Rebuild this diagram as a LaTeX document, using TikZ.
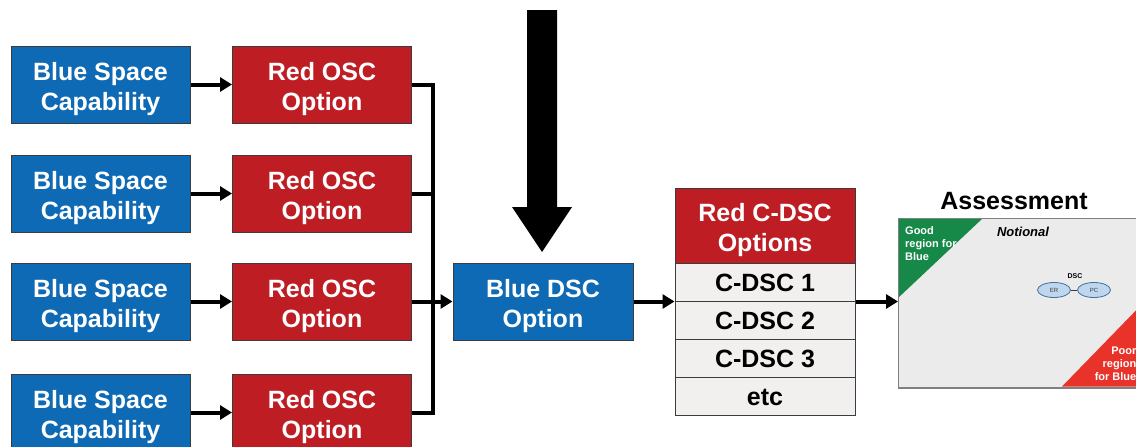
\documentclass[tikz,border=0pt]{standalone}
\usepackage{fontspec}
\setmainfont{Liberation Sans}
\usetikzlibrary{arrows.meta,shapes.geometric}
\definecolor{bbox}{RGB}{14,106,181}
\definecolor{rbox}{RGB}{190,29,36}
\definecolor{gbox}{RGB}{241,240,238}
\definecolor{edge}{RGB}{60,60,60}
\definecolor{assess}{RGB}{235,235,235}
\definecolor{goodg}{RGB}{22,136,72}
\definecolor{poorr}{RGB}{232,50,42}
\definecolor{ellf}{RGB}{190,215,238}
\definecolor{elld}{RGB}{65,113,156}
\newcommand{\lowstrut}{\rule{0pt}{28pt}}
\begin{document}
\begin{tikzpicture}[x=1pt,y=-1pt,
  box/.style={draw=edge,line width=1pt,minimum width=179pt,minimum height=77pt,inner sep=0pt,
    align=center,font=\fontsize{25}{30}\selectfont\bfseries,text=white},
  bluebox/.style={box,fill=bbox},
  redbox/.style={box,fill=rbox},
  rowbox/.style={draw=edge,line width=1pt,fill=gbox,minimum width=180pt,minimum height=38pt,inner sep=0pt,
    font=\fontsize{25}{30}\selectfont\bfseries,text=black},
  conn/.style={line width=4pt},
  arr/.style={conn,-{Triangle[length=12pt,width=14pt]}},
  ell/.style={ellipse,draw=elld,fill=ellf,line width=0.8pt,minimum width=33pt,minimum height=15pt,inner sep=0pt,
    font=\fontsize{6}{7}\selectfont,text=edge},
  tri/.style={text=white,font=\fontsize{11}{13}\selectfont\bfseries,inner sep=0pt}
]
\useasboundingbox (0,0) rectangle (1136,447);
\clip (0,0) rectangle (1136,447);
% left column
\foreach \i/\y in {1/84.5,2/193.5,3/301.5,4/412.5}{
  \node[bluebox] (b\i) at (100.5,\y) {\lowstrut Blue Space\\Capability};
  \node[redbox] (r\i) at (322,\y) {\lowstrut Red OSC\\Option};
  \draw[arr] (b\i.east) -- (r\i.west);
}
\node[bluebox,minimum width=180pt] (dsc) at (543,301.5) {\lowstrut Blue DSC\\Option};
\coordinate (bustop) at (433,84.5);
\coordinate (busbot) at (433,412.5);
\draw[conn,line join=miter] (r1.east) -- (bustop) -- (busbot) -- (r4.east);
\draw[conn] (r2.east) -- (r2.east -| bustop);
\draw[arr] (r3.east) -- (dsc.west);
% big arrow
\fill (527,10) -- (557,10) -- (557,207) -- (572,207) -- (542,252) -- (512,207) -- (527,207) -- cycle;
% table
\node[redbox,minimum width=180pt,minimum height=75pt] (hdr) at (765,225.5) {\lowstrut Red C-DSC\\Options};
\node[rowbox] (c1) at (765,282) {\rule{0pt}{19.5pt}C-DSC 1};
\node[rowbox] (c2) at (765,320) {\rule{0pt}{19.5pt}C-DSC 2};
\node[rowbox] (c3) at (765,358) {\rule{0pt}{19.5pt}C-DSC 3};
\node[rowbox] (c4) at (765,396) {\rule{0pt}{19.5pt}etc};
\draw[arr] (dsc.east) -- (dsc.east -| c1.west);
% assessment
\node[font=\fontsize{25}{30}\selectfont\bfseries] (atitle) at (1014,201) {Assessment};
\node[draw=gray,line width=1pt,fill=assess,minimum width=300pt,minimum height=169pt,inner sep=0pt,anchor=north west] (abox) at (898,218) {};
\draw[arr] (c2.east |- dsc.east) -- (abox.west |- dsc.east);
\fill[goodg] (abox.north west) -- ++(85,0) -- (abox.north west |- 0,298) -- cycle;
\fill[poorr] (1062,386.5) -- (1150,386.5) -- (1150,296) -- cycle;
\draw[gray,line width=1pt] (abox.north west) rectangle (abox.south east);
\node[tri,anchor=north west,align=left] (good) at (905,226.5) {Good\\region for\\Blue};
\node[tri,anchor=north east,align=right] (poor) at (1136.5,346.5) {Poor\\region\\for Blue};
\node[font=\fontsize{13}{15}\selectfont\bfseries\itshape] (notional) at (1023,232) {Notional};
\node[ell] (er) at (1054,290) {ER};
\node[ell] (pc) at (1094,290) {PC};
\draw[edge,line width=0.8pt] (er) -- (pc);
\node[font=\fontsize{7}{8}\selectfont\bfseries] (dsclab) at (1075,276.5) {DSC};
\end{tikzpicture}
\end{document}
